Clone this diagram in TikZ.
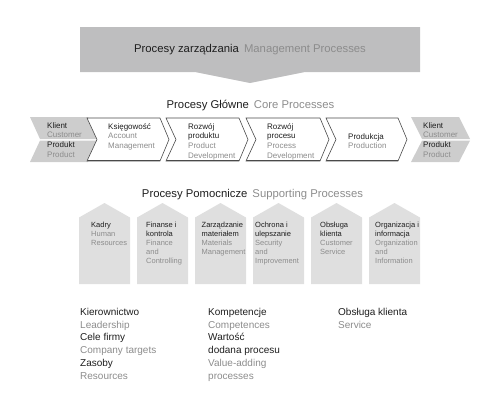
\documentclass[tikz,border=0pt]{standalone}
\usepackage{fontspec}
\setmainfont{Liberation Sans}
\definecolor{pl}{HTML}{1E1E1E}
\definecolor{en}{HTML}{8C8C8C}
\definecolor{bannerfill}{HTML}{BEBEBF}
\definecolor{chgray}{HTML}{CDCDCD}
\definecolor{pentfill}{HTML}{DFDFDF}
\definecolor{edgecol}{HTML}{4A4A4A}
\newcommand\plt[1]{\textcolor{pl}{#1}}
\newcommand\ent[1]{\textcolor{en}{#1}}
\newcommand\fls{\rule{0pt}{0.8em}}
% white chevron: #1 left x, #2 right x
\newcommand\whitechev[2]{%
  \filldraw[fill=white,draw=edgecol,line width=0.6pt,line join=miter]
    (#1,118) -- (#2,118) -- (#2+9,139.5) -- (#2,161) -- (#1,161) -- (#1+10,139.5) -- cycle;
  \draw[edgecol,line width=1.4pt] (#1+0.5,160.6) -- (#2-0.5,160.6);}
% grey split chevron: #1 left x, #2 right x, #3 depth
\newcommand\graychev[3]{%
  \fill[chgray] (#1,117) -- (#2,117) -- (#2+#3,139) -- (#1+#3,139) -- cycle;
  \fill[chgray] (#1+#3,140.6) -- (#2+#3,140.6) -- (#2,162) -- (#1,162) -- cycle;}
% pentagon: #1 left x
\newcommand\pentbox[1]{%
  \fill[pentfill] (#1,217.5) -- (#1+25.5,203) -- (#1+51,217.5) -- (#1+51,284) -- (#1,284) -- cycle;}
\begin{document}
\begin{tikzpicture}[x=1pt,y=-1pt,
  heading/.style={anchor=base,inner sep=0pt,font=\fontsize{11.3}{13}\selectfont},
  chtext/.style={anchor=north west,align=left,inner sep=0pt,font=\fontsize{8}{9.7}\selectfont},
  pentext/.style={anchor=north west,align=left,inner sep=0pt,font=\fontsize{7.5}{9}\selectfont},
  bottext/.style={anchor=north west,align=left,inner sep=0pt,font=\fontsize{10}{12.8}\selectfont}]
\useasboundingbox (0,0) rectangle (494,418);

% management banner
\fill[bannerfill] (80,27) -- (420,27) -- (420,72) -- (305,72) -- (250,83) -- (195,72) -- (80,72) -- cycle;
\node[heading] (mgmt) at (250,52) {\plt{Procesy zarządzania}\hspace{5pt}\ent{Management Processes}};

% core processes
\node[heading] (core) at (250.5,108) {\plt{Procesy Główne}\hspace{5pt}\ent{Core Processes}};
\graychev{30}{88}{10}
\whitechev{87}{160}
\whitechev{166}{239}
\whitechev{246}{320}
\whitechev{326}{398}
\graychev{411}{459}{11}

\node[chtext] (kl1) at (47,121.6) {\fls\plt{Klient}\\\ent{Customer}\\\plt{Produkt}\\\ent{Product}};
\node[chtext] (ks) at (108,122.6) {\fls\plt{Księgowość}\\\ent{Account}\\\ent{Management}};
\node[chtext] (rp) at (188,122.6) {\fls\plt{Rozwój}\\\plt{produktu}\\\ent{Product}\\\ent{Development}};
\node[chtext] (rc) at (267,122.6) {\fls\plt{Rozwój}\\\plt{procesu}\\\ent{Process}\\\ent{Development}};
\node[chtext] (pr) at (348,132.6) {\fls\plt{Produkcja}\\\ent{Production}};
\node[chtext] (kl2) at (423,121.6) {\fls\plt{Klient}\\\ent{Customer}\\\plt{Produkt}\\\ent{Product}};

% supporting processes
\node[heading] (supp) at (252.5,197) {\plt{Procesy Pomocnicze}\hspace{5pt}\ent{Supporting Processes}};
\pentbox{79}
\pentbox{137}
\pentbox{195}
\pentbox{253}
\pentbox{311}
\pentbox{369}
\node[pentext] (p1) at (91,221) {\fls\plt{Kadry}\\\ent{Human}\\\ent{Resources}};
\node[pentext] (p2) at (146,221) {\fls\plt{Finanse i}\\\plt{kontrola}\\\ent{Finance}\\\ent{and}\\\ent{Controlling}};
\node[pentext] (p3) at (201.5,221) {\fls\plt{Zarządzanie}\\\plt{materiałem}\\\ent{Materials}\\\ent{Management}};
\node[pentext] (p4) at (255,221) {\fls\plt{Ochrona i}\\\plt{ulepszanie}\\\ent{Security}\\\ent{and}\\\ent{Improvement}};
\node[pentext] (p5) at (320,221) {\fls\plt{Obsługa}\\\plt{klienta}\\\ent{Customer}\\\ent{Service}};
\node[pentext] (p6) at (375,221) {\fls\plt{Organizacja i}\\\plt{informacja}\\\ent{Organization}\\\ent{and}\\\ent{Information}};

% bottom lists
\node[bottext] (b1) at (80,307) {\fls\plt{Kierownictwo}\\\ent{Leadership}\\\plt{Cele firmy}\\\ent{Company targets}\\\plt{Zasoby}\\\ent{Resources}};
\node[bottext] (b2) at (208,307) {\fls\plt{Kompetencje}\\\ent{Competences}\\\plt{Wartość}\\\plt{dodana procesu}\\\ent{Value-adding}\\\ent{processes}};
\node[bottext] (b3) at (338,307) {\fls\plt{Obsługa klienta}\\\ent{Service}};
\end{tikzpicture}
\end{document}
